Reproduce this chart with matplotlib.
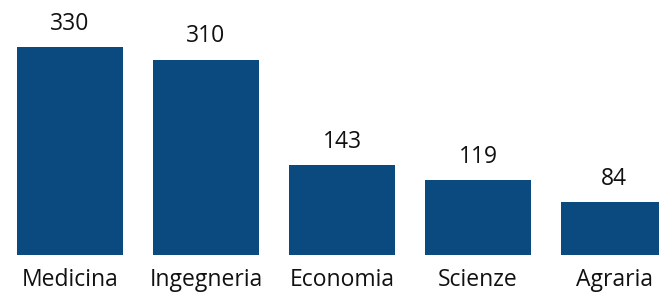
import matplotlib
matplotlib.use("Agg")
import matplotlib.pyplot as plt

categories = ["Medicina", "Ingegneria", "Economia", "Scienze", "Agraria"]
values = [330, 310, 143, 119, 84]

BAR_COLOR = "#0B4A7F"

plt.rcParams['font.family'] = ['Open Sans', 'DejaVu Sans']

fig = plt.figure(figsize=(6.59, 2.93), dpi=100)
ax = fig.add_axes([0, 38 / 293, 1, 255 / 293])

x = list(range(len(categories)))
bars = ax.bar(x, values, width=0.78, color=BAR_COLOR)

for b, v in zip(bars, values):
    ax.annotate(str(v), (b.get_x() + b.get_width() / 2, v),
                xytext=(0, 8), textcoords="offset points",
                ha="center", va="bottom", fontsize=16.5, color="#111111")

ax.set_xlim(-70 / 136, (659 - 70) / 136)
ax.set_ylim(0, 330 * 255 / 208)
ax.set_xticks(x)
ax.set_xticklabels(categories, fontsize=16.5, color="#111111")
ax.tick_params(axis="x", length=0, pad=9)
ax.set_yticks([])
for s in ax.spines.values():
    s.set_visible(False)

fig.savefig("out.png", dpi=100)
